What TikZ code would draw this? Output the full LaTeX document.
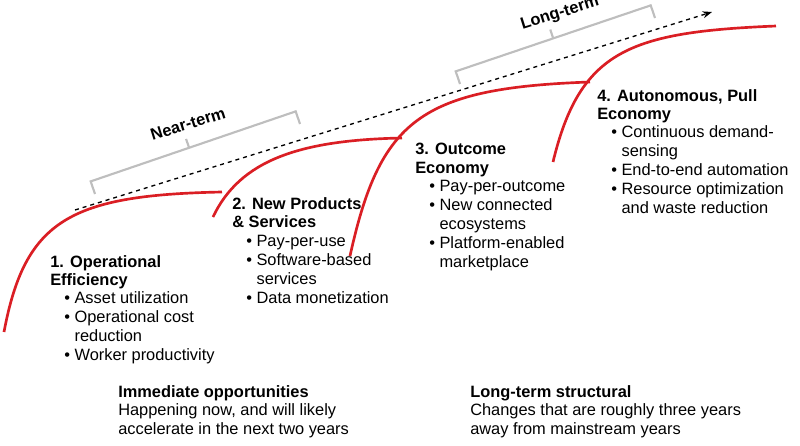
\documentclass[tikz,border=0pt]{standalone}
\usepackage{fontspec}
\setmainfont{Liberation Sans}
\usetikzlibrary{calc,arrows.meta}
\definecolor{cred}{RGB}{218,30,36}
\definecolor{cgrey}{RGB}{190,190,190}
\tikzset{
  curve/.style={draw=cred,line width=2pt},
  brk/.style={draw=cgrey,line width=1.6pt},
  head/.style={anchor=north west,inner sep=0pt,align=left,font=\fontsize{12.3}{14}\selectfont\bfseries},
  lst/.style={anchor=north west,inner sep=0pt,font=\fontsize{12.3}{14.2}\selectfont},
  foot/.style={anchor=north west,inner sep=0pt,align=left,font=\fontsize{12.3}{14}\selectfont}
}
\newcommand{\bul}{\textbullet}
\begin{document}
\begin{tikzpicture}[x=0.75pt,y=-0.75pt]
\useasboundingbox (0,0) rectangle (800,446);
% red curves
\draw[curve] (4,332) .. controls (25,220) and (70,195) .. (222,192);
\draw[curve] (213,217) .. controls (240,160) and (300,140) .. (402,138);
\draw[curve] (350,256) .. controls (380,120) and (420,88) .. (590,82);
\draw[curve] (553,162) .. controls (580,50) and (630,32) .. (776,26);
% dashed arrow
\coordinate (da) at (75,210);
\coordinate (db) at (712,12);
\draw[dashed,line width=1pt,-{Stealth[length=7pt]}] (da) -- (db);
% near-term bracket
\coordinate (n1) at (95,194);
\coordinate (n2) at (300,124);
\coordinate (n1t) at ($(n1)!10pt!90:(n2)$);
\coordinate (n2t) at ($(n2)!10pt!-90:(n1)$);
\coordinate (nm) at ($(n1t)!0.48!(n2t)$);
\draw[brk] (n1) -- (n1t) -- (n2t) -- (n2);
\draw[brk] (nm) -- ($(nm)!7pt!90:(n2t)$);
\node[rotate=17.5,font=\fontsize{12.3}{14}\selectfont\bfseries] (nt) at (188,124) {Near-term};
% long-term bracket
\coordinate (l1) at (460,84);
\coordinate (l2) at (655,18);
\coordinate (l1t) at ($(l1)!10pt!90:(l2)$);
\coordinate (l2t) at ($(l2)!10pt!-90:(l1)$);
\coordinate (lm) at ($(l1t)!0.5!(l2t)$);
\draw[brk] (l1) -- (l1t) -- (l2t) -- (l2);
\draw[brk] (lm) -- ($(lm)!7pt!90:(l2t)$);
\node[rotate=17.5,font=\fontsize{12.3}{14}\selectfont\bfseries] (lt) at (560,14) {Long-term};
% stage 1
\node[head] (h1) at (50,255) {1. Operational\\Efficiency};
\node[lst] (b1) at (64,290) {\begin{tabular}{@{}l@{\;}l@{}}\bul & Asset utilization\\ \bul & Operational cost\\ & reduction\\ \bul & Worker productivity\end{tabular}};
% stage 2
\node[head] (h2) at (232,197) {2. New Products\\\& Services};
\node[lst] (b2) at (246,233) {\begin{tabular}{@{}l@{\;}l@{}}\bul & Pay-per-use\\ \bul & Software-based\\ & services\\ \bul & Data monetization\end{tabular}};
% stage 3
\node[head] (h3) at (415,143) {3. Outcome\\Economy};
\node[lst] (b3) at (429,178) {\begin{tabular}{@{}l@{\;}l@{}}\bul & Pay-per-outcome\\ \bul & New connected\\ & ecosystems\\ \bul & Platform-enabled\\ & marketplace\end{tabular}};
% stage 4
\node[head] (h4) at (597,89) {4. Autonomous, Pull\\Economy};
\node[lst] (b4) at (611,124) {\begin{tabular}{@{}l@{\;}l@{}}\bul & Continuous demand-\\ & sensing\\ \bul & End-to-end automation\\ \bul & Resource optimization\\ & and waste reduction\end{tabular}};
% footers
\node[foot] (f1) at (118,385) {\textbf{Immediate opportunities}\\Happening now, and will likely\\accelerate in the next two years};
\node[foot] (f2) at (470,385) {\textbf{Long-term structural}\\Changes that are roughly three years\\away from mainstream years};
\end{tikzpicture}
\end{document}
